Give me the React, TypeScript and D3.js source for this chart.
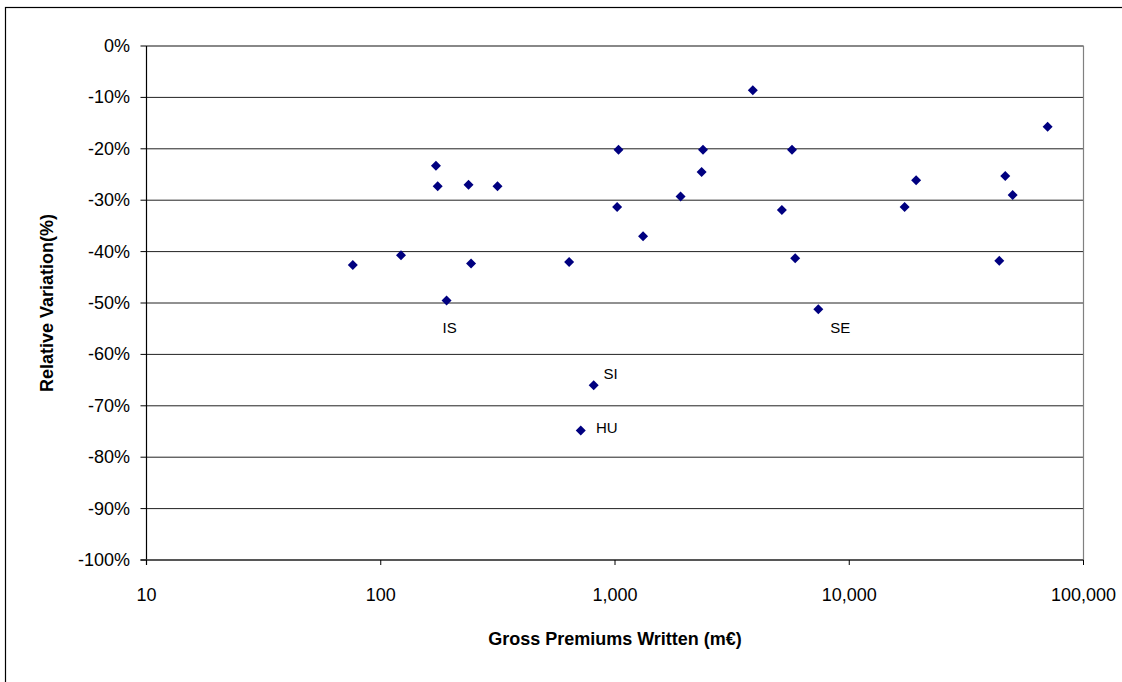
import React from "react";
import * as d3 from "d3";

// Gross premiums written (m€) and relative variation (%)
const premiums = [76, 122, 172, 175, 191, 237, 243, 315, 637, 714, 811, 1021, 1035, 1318, 1905, 2343, 2375, 3876, 5157, 5697, 5878, 7380, 17230, 19300, 43700, 46350, 49840, 70300];
const variation = [-42.6, -40.7, -23.3, -27.3, -49.5, -27.0, -42.3, -27.3, -42.0, -74.8, -66.0, -31.3, -20.2, -37.0, -29.3, -24.5, -20.2, -8.6, -31.9, -20.2, -41.3, -51.2, -31.3, -26.1, -41.8, -25.3, -29.0, -15.7];
const pointLabels = ["", "", "", "", "IS", "", "", "", "", "HU", "SI", "", "", "", "", "", "", "", "", "", "", "SE", "", "", "", "", "", ""];
const labelOffsets: Record<string, [number, number]> = { IS: [3, 27], SE: [22, 18], SI: [17, -12], HU: [26, -3] };

const xTicks = [10, 100, 1000, 10000, 100000];
const yTicks = [0, -10, -20, -30, -40, -50, -60, -70, -80, -90, -100];

const xTitle = "Gross Premiums Written (m€)";
const yTitle = "Relative Variation(%)";

export default function App() {
  const W = 1122, H = 682;
  const left = 146.5, right = 1083.5, top = 46, bottom = 560;
  const x = d3.scaleLog().domain([10, 100000]).range([left, right]);
  const y = d3.scaleLinear().domain([-100, 0]).range([bottom, top]);
  const fmt = d3.format(",");
  const font = "'Liberation Sans', Arial, sans-serif";
  const diamond = (cx: number, cy: number, r: number) => `M${cx},${cy - r}L${cx + r},${cy}L${cx},${cy + r}L${cx - r},${cy}Z`;

  return (
    <svg width={W} height={H} style={{ position: "absolute", left: 0, top: 0, background: "#fff" }} fontFamily={font}>
      <rect x={0} y={0} width={W} height={H} fill="#fff" />
      <rect x={5.5} y={7.5} width={1300} height={800} fill="none" stroke="#000" strokeWidth={1.2} />
      {/* gridlines */}
      {yTicks.map((t) => (
        <line key={"g" + t} x1={left} x2={right} y1={y(t)} y2={y(t)} stroke="#222" strokeWidth={1} />
      ))}
      {/* plot border */}
      <line x1={right} x2={right} y1={top} y2={bottom} stroke="#808080" strokeWidth={1.2} />
      <line x1={left} x2={right} y1={top} y2={top} stroke="#808080" strokeWidth={1.2} />
      {/* axes */}
      <line x1={left} x2={left} y1={top} y2={bottom + 5} stroke="#000" strokeWidth={1.2} />
      <line x1={left - 6} x2={right} y1={bottom} y2={bottom} stroke="#444" strokeWidth={1.5} />
      {yTicks.map((t) => (
        <g key={"y" + t}>
          <line x1={left - 6} x2={left} y1={y(t)} y2={y(t)} stroke="#000" strokeWidth={1} />
          <text x={130} y={y(t) + 6} textAnchor="end" fontSize={18} fill="#000">{t + "%"}</text>
        </g>
      ))}
      {xTicks.map((t) => (
        <g key={"x" + t}>
          <line x1={x(t)} x2={x(t)} y1={bottom} y2={bottom + 5} stroke="#000" strokeWidth={1} />
          <text x={x(t)} y={601} textAnchor="middle" fontSize={18} fill="#000">{fmt(t)}</text>
        </g>
      ))}
      <text x={(left + right) / 2} y={645} textAnchor="middle" fontSize={18} fontWeight="bold" fill="#000">{xTitle}</text>
      <text transform={`translate(53,${(top + bottom) / 2}) rotate(-90)`} textAnchor="middle" fontSize={18} fontWeight="bold" fill="#000">{yTitle}</text>
      {/* points */}
      {premiums.map((p, i) => (
        <path key={"p" + i} d={diamond(x(p), y(variation[i]), 5)} fill="#000080" />
      ))}
      {pointLabels.map((lab, i) => {
        if (!lab) return null;
        const [dx, dy] = labelOffsets[lab];
        return (
          <text key={"l" + i} x={x(premiums[i]) + dx} y={y(variation[i]) + dy + 5.5} textAnchor="middle" fontSize={15} fill="#000">{lab}</text>
        );
      })}
    </svg>
  );
}
